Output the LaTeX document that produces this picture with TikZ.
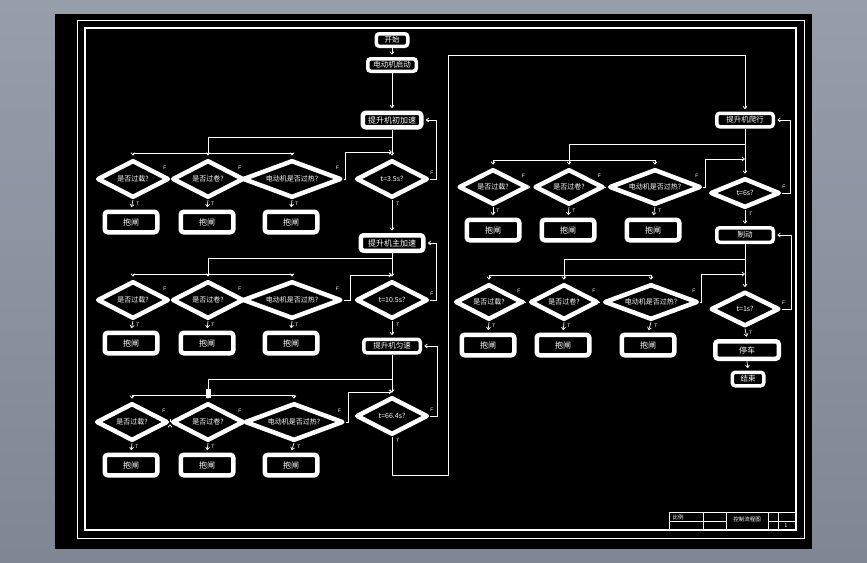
\documentclass[tikz,border=0pt]{standalone}
\usepackage{fontspec}
\setmainfont{Liberation Sans}
\newfontfamily\cjk{Noto Sans CJK SC}
\usetikzlibrary{shapes.geometric,arrows.meta,calc}
\definecolor{bgtop}{RGB}{150,158,170}
\definecolor{bgbot}{RGB}{126,135,147}
\begin{document}
\begin{tikzpicture}[x=1pt,y=-1pt,
  box/.style={rectangle,draw=white,line width=4.5pt,fill=black,rounded corners=3pt,text=white,inner sep=0pt,font=\cjk\fontsize{8}{8}\selectfont},
  sbox/.style={box,line width=3.5pt,font=\cjk\fontsize{7.5}{7.5}\selectfont},
  brk/.style={box,minimum width=52.5pt,minimum height=20.5pt},
  dia/.style={diamond,draw=white,line width=4.5pt,fill=black,inner sep=0pt,line join=round},
  dtext/.style={text=white,inner sep=0pt,font=\cjk\fontsize{7}{7}\selectfont},
  conn/.style={draw=white,line width=0.7pt},
  arr/.style={conn,-{Straight Barb[length=2.5pt,width=4pt]},shorten >=2.3pt},
  arrj/.style={conn,-{Straight Barb[length=2.5pt,width=4pt]}},
  lbl/.style={text=white,inner sep=0pt,font=\fontsize{5}{5}\selectfont},
  tb/.style={text=white,inner sep=0pt,font=\cjk\fontsize{5.5}{5.5}\selectfont}]
\useasboundingbox (0,0) rectangle (867,562);
\shade[top color=bgtop,bottom color=bgbot] (0,0) rectangle (867,562);
\fill[black] (55,14) rectangle (812,549);
\draw[white,line width=0.8pt] (77,20) rectangle (804,538);
\draw[white,line width=2.5pt] (85,28) rectangle (796,530);
% title block
\draw[white,line width=0.6pt] (669,512) rectangle (796,530);
\draw[white,line width=0.6pt] (703,512) -- (703,530) (726,512) -- (726,530)
  (768,512) -- (768,530) (778,512) -- (778,530)
  (669,521) -- (726,521) (768,521) -- (796,521);
\node[tb] (tbl) at (678,517) {比例};
\node[tb] (tbt) at (747,519) {控制流程图};
\node[tb] (tbn) at (786,526) {1};

% ---------- left column ----------
\node[sbox,minimum width=31.5pt,minimum height=12.5pt] (start) at (392,40) {开始};
\node[sbox,minimum width=48.5pt,minimum height=12.5pt] (motor) at (392,65) {电动机启动};
\node[box,minimum width=58.5pt,minimum height=14.5pt] (acc1) at (392,120) {提升机初加速};
\node[dia,minimum width=71.5pt,minimum height=37.5pt,label={[dtext]center:{t=3.5s?}}] (t1) at (392,179) {};
\node[dia,minimum width=71.5pt,minimum height=37.5pt,label={[dtext]center:{是否过载?}}] (c11) at (133,179) {};
\node[dia,minimum width=71.5pt,minimum height=37.5pt,label={[dtext]center:{是否过卷?}}] (c12) at (208,179) {};
\node[dia,minimum width=98.5pt,minimum height=37.5pt,label={[dtext]center:{电动机是否过热?}}] (c13) at (292,179) {};
\node[brk] (b11) at (131,222) {抱闸};
\node[brk] (b12) at (207,222) {抱闸};
\node[brk] (b13) at (291,222) {抱闸};

\node[box,minimum width=62.5pt,minimum height=15.5pt] (acc2) at (392,243) {提升机主加速};
\node[dia,minimum width=71.5pt,minimum height=37.5pt,label={[dtext]center:{t=10.5s?}}] (t2) at (392,300) {};
\node[dia,minimum width=71.5pt,minimum height=37.5pt,label={[dtext]center:{是否过载?}}] (c21) at (133,300) {};
\node[dia,minimum width=71.5pt,minimum height=37.5pt,label={[dtext]center:{是否过卷?}}] (c22) at (208,300) {};
\node[dia,minimum width=98.5pt,minimum height=37.5pt,label={[dtext]center:{电动机是否过热?}}] (c23) at (292,300) {};
\node[brk] (b21) at (131,343) {抱闸};
\node[brk] (b22) at (207,343) {抱闸};
\node[brk] (b23) at (291,343) {抱闸};

\node[sbox,minimum width=56.5pt,minimum height=13.5pt] (unif) at (392,346) {提升机匀速};
\node[dia,minimum width=71.5pt,minimum height=37.5pt,label={[dtext]center:{t=66.4s?}}] (t3) at (392,416) {};
\node[dia,minimum width=71.5pt,minimum height=37.5pt,label={[dtext]center:{是否过载?}}] (c31) at (132,422) {};
\node[dia,minimum width=71.5pt,minimum height=37.5pt,label={[dtext]center:{是否过卷?}}] (c32) at (208,422) {};
\node[dia,minimum width=98.5pt,minimum height=37.5pt,label={[dtext]center:{电动机是否过热?}}] (c33) at (294,422) {};
\node[brk] (b31) at (131,465) {抱闸};
\node[brk] (b32) at (207,465) {抱闸};
\node[brk] (b33) at (291,465) {抱闸};

% ---------- right column ----------
\node[sbox,minimum width=56.5pt,minimum height=13.5pt] (crawl) at (745,120) {提升机爬行};
\node[dia,minimum width=69.5pt,minimum height=29.5pt,label={[dtext]center:{t=6s?}}] (t4) at (745,193) {};
\node[dia,minimum width=68.5pt,minimum height=35.5pt,label={[dtext]center:{是否过载?}}] (cA1) at (493,187) {};
\node[dia,minimum width=68.5pt,minimum height=35.5pt,label={[dtext]center:{是否过卷?}}] (cA2) at (569,187) {};
\node[dia,minimum width=91.5pt,minimum height=35.5pt,label={[dtext]center:{电动机是否过热?}}] (cA3) at (655,187) {};
\node[brk] (bA1) at (493,230) {抱闸};
\node[brk] (bA2) at (568,230) {抱闸};
\node[brk] (bA3) at (653,230) {抱闸};

\node[sbox,minimum width=56.5pt,minimum height=14.5pt] (brake) at (745,235) {制动};
\node[dia,minimum width=68.5pt,minimum height=34.5pt,label={[dtext]center:{t=1s?}}] (t5) at (745,309) {};
\node[dia,minimum width=67.5pt,minimum height=35.5pt,label={[dtext]center:{是否过载?}}] (cB1) at (489,302) {};
\node[dia,minimum width=67.5pt,minimum height=35.5pt,label={[dtext]center:{是否过卷?}}] (cB2) at (564,302) {};
\node[dia,minimum width=93.5pt,minimum height=35.5pt,label={[dtext]center:{电动机是否过热?}}] (cB3) at (651,302) {};
\node[brk] (bB1) at (488,345) {抱闸};
\node[brk] (bB2) at (563,345) {抱闸};
\node[brk] (bB3) at (648,345) {抱闸};

\node[box,minimum width=63.5pt,minimum height=17.5pt] (stop) at (747,350) {停车};
\node[sbox,minimum width=31.5pt,minimum height=13.5pt] (end) at (748,379) {结束};

% ---------- connectors: left ----------
\draw[arr] (start.south) -- (motor.north);
\draw[arr] (motor.south) -- (acc1.north);
\draw[arr] (acc1.south) -- (t1.north);
\draw[arr] (t1.east) -- (436,179) |- (acc1.east);
\draw[arr] (t1.south) -- (acc2.north);
\draw[arr] (acc2.south) -- (t2.north);
\draw[arr] (t2.east) -- (436,300) |- (acc2.east);
\draw[arr] (t2.south) -- (unif.north);
\draw[arr] (unif.south) -- (t3.north);
\draw[arr] (t3.east) -- (437,416) |- (unif.east);
\draw[arr] (t3.south) -- (392,475) -- (448,475) -- (448,55) -- (745,55) -- (crawl.north);

\foreach \r/\ya/\yb/\yj/\xe in {1/137/153/152/345, 2/258/274/275/350, 3/379/395/392/348}{
  \coordinate (s\r) at (392,\ya);
  \coordinate (h\r) at (208,\yb);
  \coordinate (j\r) at (392,\yj);
  \draw[conn] (s\r) -| (h\r);
  \draw[conn] (c\r1.north |- h\r) -- (c\r3.north |- h\r);
  \draw[arr] (c\r1.north |- h\r) -- (c\r1.north);
  \draw[arr] (h\r) -- (c\r2.north);
  \draw[arr] (c\r3.north |- h\r) -- (c\r3.north);
  \draw[arr] (c\r1.east) -- (c\r2.west);
  \draw[arr] (c\r2.east) -- (c\r3.west);
  \draw[arrj] (c\r3.east) -- (\xe,0 |- c\r3.east) |- (j\r);
  \draw[arr] (c\r1.south) -- (b\r1.north);
  \draw[arr] (c\r2.south) -- (b\r2.north);
  \draw[arr] (c\r3.south) -- (b\r3.north);
}
\fill[white] (205.5,389) rectangle (210.5,398);

% ---------- connectors: right ----------
\draw[arr] (crawl.south) -- (t4.north);
\draw[arr] (t4.east) -- (790,193) |- (crawl.east);
\draw[arr] (t4.south) -- (brake.north);
\draw[arr] (brake.south) -- (t5.north);
\draw[arr] (t5.east) -- (791,309) |- (brake.east);
\draw[arr] (t5.south) -- (stop.north);
\draw[arr] (stop.south) -- (end.north);

\foreach \r/\ya/\yb/\yj/\xe/\xm in {A/144/160/159/705/569, B/259/275/274/701/564}{
  \coordinate (s\r) at (745,\ya);
  \coordinate (h\r) at (\xm,\yb);
  \coordinate (j\r) at (745,\yj);
  \draw[conn] (s\r) -| (h\r);
  \draw[conn] (c\r1.north |- h\r) -- (c\r3.north |- h\r);
  \draw[arr] (c\r1.north |- h\r) -- (c\r1.north);
  \draw[arr] (h\r) -- (c\r2.north);
  \draw[arr] (c\r3.north |- h\r) -- (c\r3.north);
  \draw[arr] (c\r1.east) -- (c\r2.west);
  \draw[arr] (c\r2.east) -- (c\r3.west);
  \draw[arrj] (c\r3.east) -- (\xe,0 |- c\r3.east) |- (j\r);
  \draw[arr] (c\r1.south) -- (b\r1.north);
  \draw[arr] (c\r2.south) -- (b\r2.north);
  \draw[arr] (c\r3.south) -- (b\r3.north);
}

% ---------- F / T labels ----------
\foreach \n in {c11,c12,c13,c21,c22,c23,c31,c32,c33,cA1,cA2,cA3,cB1,cB2,cB3}{
  \node[lbl] (F\n) at ($(\n.east)+(-6,-11)$) {F};
  \node[lbl] (T\n) at ($(\n.south)+(5,4)$) {T};
}
\foreach \n in {t1,t2,t3,t4,t5}{
  \node[lbl] (F\n) at ($(\n.east)+(2,-6)$) {F};
  \node[lbl] (T\n) at ($(\n.south)+(6,4)$) {T};
}
\end{tikzpicture}
\end{document}
